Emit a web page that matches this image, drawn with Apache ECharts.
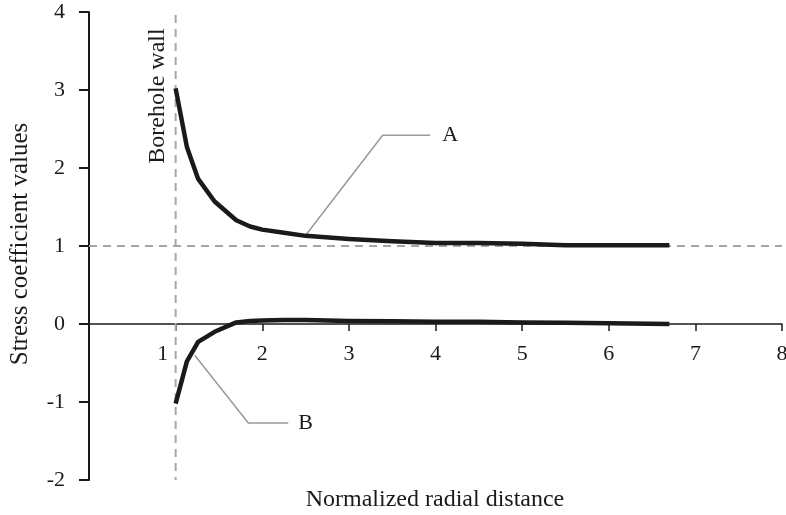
<!DOCTYPE html>
<html>
<head>
<meta charset="utf-8">
<script src="https://cdn.jsdelivr.net/npm/echarts@6/dist/echarts.min.js"></script>
<style>html,body{margin:0;padding:0;background:#fff}#c{width:786px;height:515px}</style>
</head>
<body>
<div id="c"></div>
<script>
// Data
var radialDistance = [1, 1.13, 1.26, 1.45, 1.7, 1.86, 2.0, 2.25, 2.5, 3.0, 3.5, 4.0, 4.5, 5.0, 5.5, 6.0, 6.7];
var curveA = [3.02, 2.27, 1.86, 1.57, 1.33, 1.25, 1.21, 1.17, 1.13, 1.09, 1.06, 1.04, 1.04, 1.03, 1.01, 1.01, 1.01];
var curveB = [-1.02, -0.48, -0.23, -0.10, 0.02, 0.04, 0.045, 0.05, 0.05, 0.04, 0.035, 0.03, 0.03, 0.02, 0.015, 0.01, 0.0];
var boreholeWallLine = [[1, 3.96], [1, -2]];
var farFieldLine = [[0, 1], [8, 1]];
var leaderA = [[2.51, 1.15], [3.39, 2.42], [3.94, 2.42]];
var leaderB = [[1.22, -0.40], [1.84, -1.27], [2.30, -1.27]];
var xTicks = {min: 0, max: 8, interval: 1};
var yTicks = {min: -2, max: 4, interval: 1};

var FONT = 'Liberation Serif';
var INK = '#1a1a1a';
function zip(xs, ys) { return xs.map(function (x, i) { return [x, ys[i]]; }); }

var GRID = {left: 89, right: 4, top: 12, bottom: 35};
var plotH = 515 - GRID.top - GRID.bottom;
// x axis sits on y = 0: distance from the grid bottom
var zeroOffset = -plotH * (0 - yTicks.min) / (yTicks.max - yTicks.min);

var chart = echarts.init(document.getElementById('c'), null, {renderer: 'canvas'});
chart.setOption({
  animation: false,
  backgroundColor: '#ffffff',
  grid: {left: GRID.left, right: GRID.right, top: GRID.top, bottom: GRID.bottom, containLabel: false, outerBoundsMode: 'none'},
  xAxis: {
    type: 'value', min: xTicks.min, max: xTicks.max, interval: xTicks.interval,
    offset: zeroOffset,
    axisLine: {onZero: false, lineStyle: {color: INK, width: 1.5}},
    axisTick: {show: true, length: 7, lineStyle: {color: INK, width: 1.5}},
    splitLine: {show: false},
    axisLabel: {
      margin: 19, color: INK, fontFamily: FONT, fontSize: 22,
      formatter: function (v) { if (v === 0) return ''; if (v === 1) return '{one|1}'; return String(v); },
      rich: {one: {fontFamily: FONT, fontSize: 22, color: INK, padding: [0, 26, 0, 0]}}
    }
  },
  yAxis: {
    type: 'value', min: yTicks.min, max: yTicks.max, interval: yTicks.interval,
    axisLine: {show: true, onZero: false, lineStyle: {color: INK, width: 2}},
    axisTick: {show: true, length: 10, lineStyle: {color: INK, width: 2}},
    splitLine: {show: false},
    axisLabel: {margin: 24, color: INK, fontFamily: FONT, fontSize: 22}
  },
  graphic: [
    {type: 'text', x: 435, y: 500, style: {text: 'Normalized radial distance', fontFamily: FONT, fontSize: 24, fill: INK, align: 'center', verticalAlign: 'middle'}},
    {type: 'text', x: 20, y: 244, rotation: Math.PI / 2, style: {text: 'Stress coefficient values', fontFamily: FONT, fontSize: 25, fill: INK, align: 'center', verticalAlign: 'middle'}},
    {type: 'text', x: 158, y: 96, rotation: Math.PI / 2, style: {text: 'Borehole wall', fontFamily: FONT, fontSize: 24, fill: INK, align: 'center', verticalAlign: 'middle'}}
  ],
  series: [
    {type: 'line', data: boreholeWallLine, symbol: 'none', silent: true,
     lineStyle: {color: '#a6a6a6', width: 2, type: [8, 6]}},
    {type: 'line', data: farFieldLine, symbol: 'none', silent: true,
     lineStyle: {color: '#a6a6a6', width: 2, type: [8, 6]}},
    {type: 'line', data: leaderA, symbol: 'none', silent: true,
     lineStyle: {color: '#999999', width: 1.5},
     endLabel: {show: true, formatter: 'A', distance: 12, fontFamily: FONT, fontSize: 22, color: INK}},
    {type: 'line', data: leaderB, symbol: 'none', silent: true,
     lineStyle: {color: '#999999', width: 1.5},
     endLabel: {show: true, formatter: 'B', distance: 10, fontFamily: FONT, fontSize: 22, color: INK}},
    {type: 'line', data: zip(radialDistance, curveA), symbol: 'none', silent: true,
     lineStyle: {color: INK, width: 4.5, join: 'round'}},
    {type: 'line', data: zip(radialDistance, curveB), symbol: 'none', silent: true,
     lineStyle: {color: INK, width: 4.5, join: 'round'}}
  ]
});
</script>
</body>
</html>
